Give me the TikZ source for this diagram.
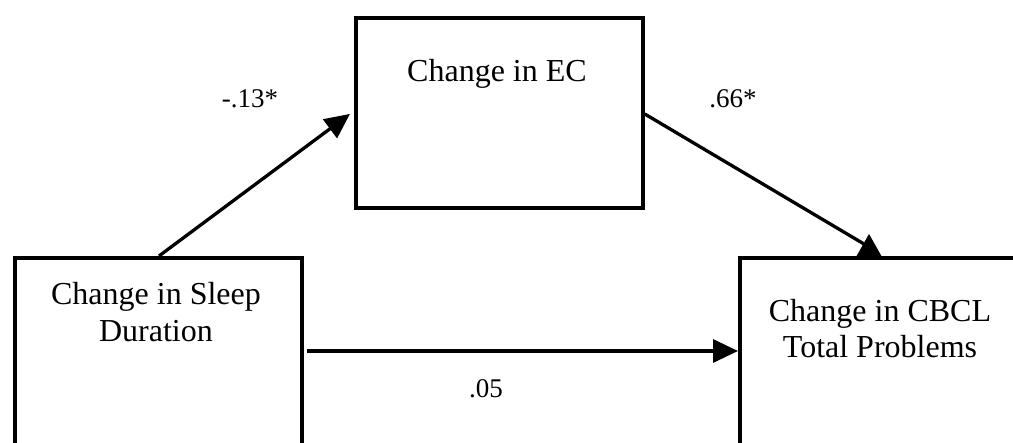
\documentclass[tikz,border=0pt]{standalone}
\usepackage{fontspec}
\setmainfont{Liberation Serif}
\usetikzlibrary{arrows.meta}
\begin{document}
\begin{tikzpicture}[x=1pt,y=-1pt,
  boxst/.style={draw=black,line width=3.8pt,inner sep=0pt,anchor=north west,fill=none},
  lbl/.style={inner sep=0pt,anchor=base,font=\fontsize{32}{38}\selectfont},
  coef/.style={inner sep=0pt,anchor=base,font=\fontsize{27}{32}\selectfont},
  arr/.style={line width=3.3pt,-{Triangle[length=25pt,width=23pt]}},
  ln/.style={line width=3.3pt}]
\useasboundingbox (0,0) rectangle (1013,443);
\clip (0,0) rectangle (1013,443);
% boxes
\node[boxst,minimum width=287pt,minimum height=240pt] (sleep) at (13,256) {};
\node[boxst,minimum width=287pt,minimum height=190pt] (ec) at (354,16) {};
\node[boxst,minimum width=310pt,minimum height=240pt] (cbcl) at (738,256) {};
% texts
\node[lbl] (t1a) at (156,305) {Change in Sleep};
\node[lbl] (t1b) at (156,342) {Duration};
\node[lbl] (t2) at (497,82) {Change in EC};
\node[lbl] (t3a) at (880,322) {Change in CBCL};
\node[lbl] (t3b) at (880,358) {Total Problems};
% coefficients
\node[coef] (c1) at (250,108) {-.13*};
\node[coef] (c2) at (733,108) {.66*};
\node[coef] (c3) at (486,398) {.05};
% connectors
\path (sleep.north west) ++(146,0) coordinate (a1s);
\path (ec.west) ++(-4,1) coordinate (a1e);
\draw[arr] (a1s) -- (a1e);
\path (ec.north east) ++(0,98) coordinate (a2s);
\path (cbcl.north west) ++(126,-12) coordinate (a2e);
\draw[ln] (a2s) -- (a2e);
\fill (cbcl.north west) ++(118,1) -- ++(13,-23) -- ++(13,23) -- cycle;
\path (sleep.north east) ++(3,95) coordinate (a3s);
\path (cbcl.north west) ++(0,95) coordinate (a3e);
\draw[arr] (a3s) -- (a3e);
\end{tikzpicture}
\end{document}
